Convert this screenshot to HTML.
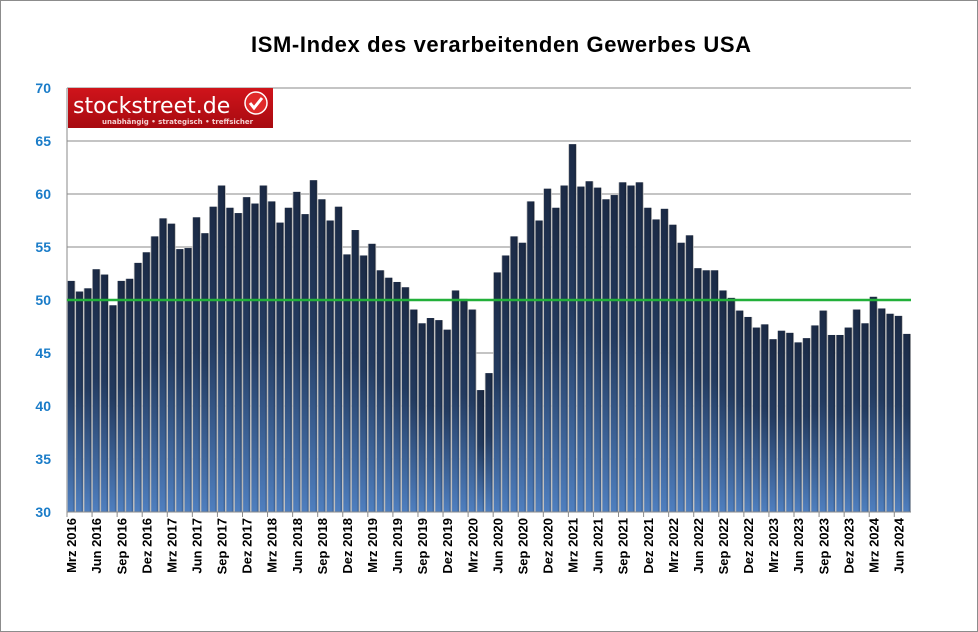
<!DOCTYPE html>
<html><head><meta charset="utf-8"><style>
body{margin:0;background:#fff;}
#w{position:relative;width:976px;height:630px;border:1px solid #8c8c8c;background:#fff;overflow:hidden;}
svg{position:absolute;left:0;top:0;}
</style></head><body><div id="w">
<svg id="s" width="976" height="630" xmlns="http://www.w3.org/2000/svg">
<defs>
<linearGradient id="g" x1="0" y1="0" x2="0" y2="1">
<stop offset="0" stop-color="#1b2a45"/><stop offset="0.45" stop-color="#233b60"/><stop offset="1" stop-color="#4f7fbf"/></linearGradient>
<linearGradient id="h" x1="0" y1="0" x2="1" y2="0">
<stop offset="0" stop-color="#000" stop-opacity="0"/><stop offset="0.7" stop-color="#000" stop-opacity="0"/><stop offset="1" stop-color="#000" stop-opacity="0.25"/></linearGradient>
<linearGradient id="r" x1="0" y1="0" x2="0" y2="1"><stop offset="0" stop-color="#d0141b"/><stop offset="1" stop-color="#a80a10"/></linearGradient>
</defs>
<text x="500" y="51" text-anchor="middle" font-family="Liberation Sans,sans-serif" font-weight="bold" font-size="22" fill="#000" textLength="500">ISM-Index des verarbeitenden Gewerbes USA</text>
<g id="grid"></g>
<g id="bars"></g>
<line x1="66" y1="299" x2="910" y2="299" stroke="#22b03a" stroke-width="2.5"/>
<g id="lab"></g>
<rect x="67" y="87" width="205" height="40" fill="url(#r)"/>
<text x="72" y="112" font-family="DejaVu Sans,sans-serif" font-size="22" fill="#fff">stockstreet.de</text>
<text x="101" y="123" font-family="DejaVu Sans,sans-serif" font-size="7" font-weight="bold" fill="#f4d0d0">unabhängig • strategisch • treffsicher</text>
<circle cx="255" cy="102" r="11" fill="#e02a2a" stroke="#fff" stroke-width="1.5"/>
<path d="M249 102 l4 5 l8 -10" fill="none" stroke="#fff" stroke-width="3"/>
</svg></div>
<script>
var v=[51.8,50.8,51.1,52.9,52.4,49.5,51.8,52.0,53.5,54.5,
56.0,57.7,57.2,54.8,54.9,57.8,56.3,58.8,60.8,58.7,58.2,59.7,
59.1,60.8,59.3,57.3,58.7,60.2,58.1,61.3,59.5,57.5,58.8,54.3,
56.6,54.2,55.3,52.8,52.1,51.7,51.2,49.1,47.8,48.3,48.1,47.2,
50.9,50.1,49.1,41.5,43.1,52.6,54.2,56.0,55.4,59.3,57.5,60.5,
58.7,60.8,64.7,60.7,61.2,60.6,59.5,59.9,61.1,60.8,61.1,58.7,
57.6,58.6,57.1,55.4,56.1,53.0,52.8,52.8,50.9,50.2,49.0,48.4,
47.4,47.7,46.3,47.1,46.9,46.0,46.4,47.6,49.0,46.7,46.7,47.4,
49.1,47.8,50.3,49.2,48.7,48.5,46.8];
var NS="http://www.w3.org/2000/svg";
function el(t,a,p){var e=document.createElementNS(NS,t);for(var k in a)e.setAttribute(k,a[k]);p.appendChild(e);return e;}
var L=66,R=910,T=87,B=511,sc=(B-T)/40,bw=(R-L)/101;
function Y(x){return B-(x-30)*sc;}
var g=document.getElementById('grid'),b=document.getElementById('bars'),lb=document.getElementById('lab');
for(var i=30;i<=70;i+=5){var y=Y(i);el('line',{x1:L,y1:y,x2:R,y2:y,stroke:'#8a8a8a','stroke-width':1},g);
var t=el('text',{x:50,y:y+5,'text-anchor':'end','font-family':'Liberation Sans,sans-serif','font-weight':'bold','font-size':14,fill:'#1a7cc8'},g);t.textContent=i;}
el('line',{x1:L,y1:T,x2:L,y2:B,stroke:'#8a8a8a'},g);
var mon=['Mrz','Jun','Sep','Dez'];
for(var k=0;k<v.length;k++){var x=L+k*bw+0.7,y=Y(v[k]);
el('rect',{x:x-0.7,y:y,width:bw,height:B-y,fill:'#b8b8b8'},b);
el('rect',{x:x,y:y,width:bw-1.5,height:B-y,fill:'url(#g)'},b);
el('rect',{x:x,y:y,width:bw-1.5,height:B-y,fill:'url(#h)'},b);
if(k%3==0){var tx=L+k*bw;el('line',{x1:tx,y1:B,x2:tx,y2:B+5,stroke:'#8a8a8a'},lb);
var yr=2016+Math.floor((k+2)/12);var m=mon[(k/3)%4];var cx=tx+bw/2+5;
var t=el('text',{x:0,y:0,transform:'translate('+cx+',517) rotate(-90)','text-anchor':'end','font-family':'Liberation Sans,sans-serif','font-weight':'bold','font-size':13,fill:'#000'},lb);t.textContent=m+' '+yr;}}
el('line',{x1:L,y1:B,x2:R,y2:B,stroke:'#8a8a8a'},lb);
</script>
</body></html>
